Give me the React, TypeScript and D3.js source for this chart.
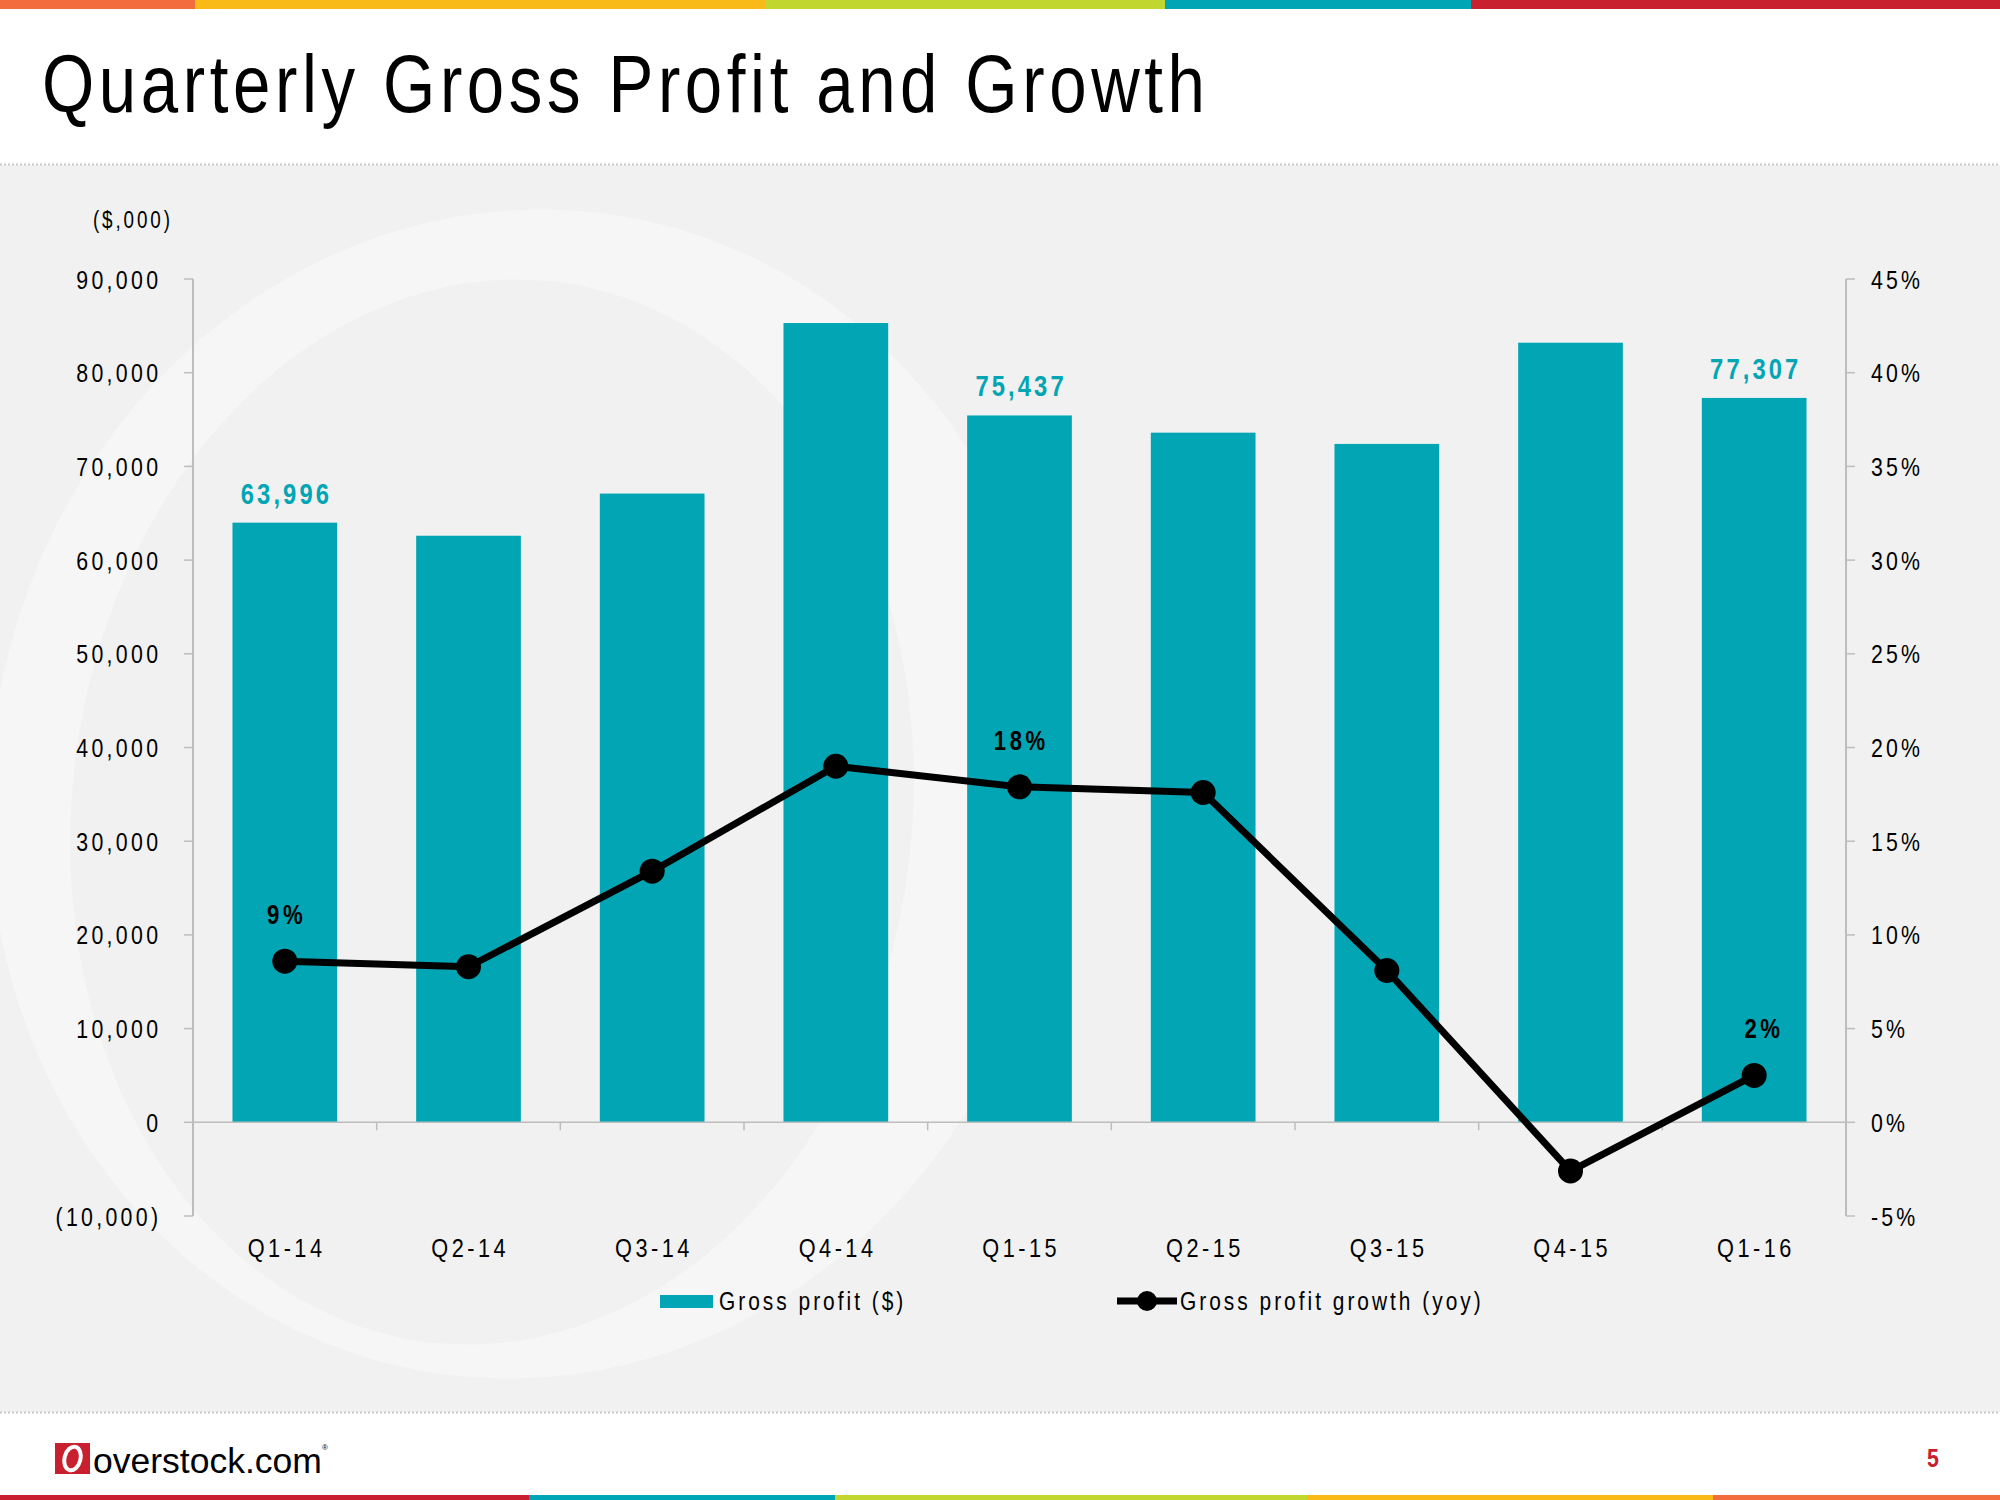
import React from 'react';
import * as d3 from 'd3';

const categories = ['Q1-14', 'Q2-14', 'Q3-14', 'Q4-14', 'Q1-15', 'Q2-15', 'Q3-15', 'Q4-15', 'Q1-16'];
const grossProfit = [63996, 62600, 67100, 85300, 75437, 73600, 72400, 83200, 77307];
const growthPct = [8.6, 8.3, 13.4, 19.0, 17.9, 17.6, 8.1, -2.6, 2.5];
const barLabelIndex = [0, 4, 8];
const growthLabelIndex = [0, 4, 8];
const growthLabelText = ['9%', '18%', '2%'];
const leftTicks = [-10000, 0, 10000, 20000, 30000, 40000, 50000, 60000, 70000, 80000, 90000];
const rightTicks = [-5, 0, 5, 10, 15, 20, 25, 30, 35, 40, 45];
const topStripe = [
  { color: '#F26C3D', w: 195 },
  { color: '#F9BA18', w: 570 },
  { color: '#C1D72F', w: 400 },
  { color: '#00A5B5', w: 306 },
  { color: '#C8202F', w: 529 },
];
const bottomStripe = [
  { color: '#C8202F', w: 529 },
  { color: '#00A5B5', w: 306 },
  { color: '#C1D72F', w: 472 },
  { color: '#F9BA18', w: 406 },
  { color: '#F26C3D', w: 287 },
];

const TEAL = '#01A5B4';
const FONT = "'Liberation Sans', Arial, sans-serif";
const SX = 0.82;

type TProps = {
  x: number; y: number; size: number; children: React.ReactNode;
  anchor?: 'start' | 'middle' | 'end'; spacing?: number; weight?: string; fill?: string;
  sx?: number; textLength?: number;
};
function T({ x, y, size, children, anchor = 'start', spacing = 0, weight = 'normal', fill = '#000', sx = SX, textLength }: TProps) {
  const ls = spacing / sx;
  const shift = anchor === 'end' ? spacing : anchor === 'middle' ? spacing / 2 : 0;
  return (
    <text
      transform={`translate(${x + shift},${y}) scale(${sx},1)`}
      textAnchor={anchor}
      fontFamily={FONT}
      fontSize={size}
      fontWeight={weight}
      letterSpacing={textLength ? undefined : ls}
      fill={fill}
      textLength={textLength ? textLength / sx : undefined}
      lengthAdjust={textLength ? 'spacing' : undefined}
    >
      {children}
    </text>
  );
}

function ellipsePath(cx: number, cy: number, rx: number, ry: number, rot: number) {
  const p = d3.path();
  const n = 120;
  const c = Math.cos(rot), s = Math.sin(rot);
  for (let i = 0; i <= n; i++) {
    const t = (i / n) * Math.PI * 2;
    const ex = rx * Math.cos(t), ey = ry * Math.sin(t);
    const px = cx + ex * c - ey * s, py = cy + ex * s + ey * c;
    if (i === 0) p.moveTo(px, py); else p.lineTo(px, py);
  }
  p.closePath();
  return p.toString();
}

export default function App() {
  const W = 2000, H = 1500;
  const plotLeft = 193, plotRight = 1846, plotTop = 279, plotBottom = 1216;
  const x = d3.scaleBand<string>().domain(categories).range([plotLeft, plotRight]).paddingInner(0.43).paddingOuter(0.215);
  const y = d3.scaleLinear().domain([-10000, 90000]).range([plotBottom, plotTop]);
  const y2 = d3.scaleLinear().domain([-5, 45]).range([plotBottom, plotTop]);
  const step = x.step();
  const cx = (c: string) => (x(c) as number) + x.bandwidth() / 2;
  const line = d3.line<number>().x((_, i) => cx(categories[i])).y((d) => y2(d));
  const fmt = d3.format(',');
  const y0 = y(0);

  const ringPath = ellipsePath(525, 794, 535, 586, 0.17) + ellipsePath(492, 812, 420, 534, 0.12);

  let acc = 0;
  const topBars = topStripe.map((s) => { const r = { ...s, x: acc }; acc += s.w; return r; });
  acc = 0;
  const botBars = bottomStripe.map((s) => { const r = { ...s, x: acc }; acc += s.w; return r; });

  return (
    <div style={{ position: 'absolute', left: 0, top: 0 }}>
      <svg width={W} height={H} style={{ display: 'block' }}>
        <rect x={0} y={0} width={W} height={H} fill="#ffffff" />
        <rect x={0} y={165} width={W} height={1247} fill="#F1F1F1" />
        <clipPath id="bgclip"><rect x={0} y={166} width={W} height={1245} /></clipPath>
        <g clipPath="url(#bgclip)">
          <path d={ringPath} fill="#F6F6F6" fillRule="evenodd" />
        </g>
        {topBars.map((s, i) => <rect key={i} x={s.x} y={0} width={s.w} height={9} fill={s.color} />)}
        {botBars.map((s, i) => <rect key={i} x={s.x} y={1495} width={s.w} height={5} fill={s.color} />)}
        <line x1={0} x2={W} y1={164.5} y2={164.5} stroke="#C8C8C8" strokeWidth={2} strokeDasharray="2,2" />
        <line x1={0} x2={W} y1={1412.5} y2={1412.5} stroke="#C8C8C8" strokeWidth={2} strokeDasharray="2,2" />

        <T x={42} y={112} size={82} textLength={1163}>Quarterly Gross Profit and Growth</T>

        {/* left axis */}
        <T x={170} y={228} size={23} anchor="end" spacing={2.9}>($,000)</T>
        <line x1={plotLeft} x2={plotLeft} y1={plotTop} y2={plotBottom} stroke="#BDBDBD" strokeWidth={2} />
        {leftTicks.map((t) => (
          <g key={t}>
            <line x1={plotLeft - 9} x2={plotLeft} y1={y(t)} y2={y(t)} stroke="#BDBDBD" strokeWidth={1.5} />
            <T x={158} y={y(t) + 9.5} size={26} anchor="end" spacing={3.3}>
              {t < 0 ? `(${fmt(-t)})` : fmt(t)}
            </T>
          </g>
        ))}
        {/* right axis */}
        <line x1={plotRight} x2={plotRight} y1={plotTop} y2={plotBottom} stroke="#BDBDBD" strokeWidth={2} />
        {rightTicks.map((t) => (
          <g key={t}>
            <line x1={plotRight} x2={plotRight + 9} y1={y2(t)} y2={y2(t)} stroke="#BDBDBD" strokeWidth={1.5} />
            <T x={1871} y={y2(t) + 9.5} size={26} spacing={3.2}>{`${t}%`}</T>
          </g>
        ))}

        {/* bars */}
        {grossProfit.map((v, i) => (
          <rect key={i} x={x(categories[i])} y={y(v)} width={x.bandwidth()} height={y0 - y(v)} fill={TEAL} />
        ))}
        {/* zero line */}
        <line x1={plotLeft} x2={plotRight} y1={y0} y2={y0} stroke="#BDBDBD" strokeWidth={1.5} />
        {categories.slice(1).map((c, i) => (
          <line key={c} x1={plotLeft + step * (i + 1)} x2={plotLeft + step * (i + 1)} y1={y0} y2={y0 + 8} stroke="#BDBDBD" strokeWidth={1.5} />
        ))}
        {barLabelIndex.map((i) => (
          <T key={i} x={cx(categories[i])} y={y(grossProfit[i]) - 19} size={29} anchor="middle" weight="bold" spacing={3.1} fill={TEAL}>
            {fmt(grossProfit[i])}
          </T>
        ))}

        {/* growth line */}
        <path d={line(growthPct) as string} fill="none" stroke="#000" strokeWidth={7} strokeLinejoin="round" />
        {growthPct.map((g, i) => (
          <circle key={i} cx={cx(categories[i])} cy={y2(g)} r={12.5} fill="#000" />
        ))}
        {growthLabelIndex.map((i, k) => (
          <T key={i} x={cx(categories[i]) + (k === 2 ? 8 : 0)} y={y2(growthPct[i]) - 37} size={27} anchor="middle" weight="bold" spacing={3.5}>
            {growthLabelText[k]}
          </T>
        ))}

        {/* category labels */}
        {categories.map((c) => (
          <T key={c} x={cx(c)} y={1257} size={26.5} anchor="middle" spacing={3.5}>{c}</T>
        ))}

        {/* legend */}
        <rect x={660} y={1295} width={53} height={13} fill={TEAL} />
        <T x={719} y={1310} size={25.5} spacing={3}>Gross profit ($)</T>
        <line x1={1117} x2={1177} y1={1301} y2={1301} stroke="#000" strokeWidth={7} />
        <circle cx={1147} cy={1301} r={10} fill="#000" />
        <T x={1180} y={1310} size={25.5} spacing={3}>Gross profit growth (yoy)</T>

        {/* footer */}
        <rect x={55} y={1443} width={35} height={31} fill="#C8202F" />
        <ellipse cx={72.5} cy={1458.5} rx={8} ry={12} transform="rotate(15,72.5,1458.5)" fill="none" stroke="#fff" strokeWidth={4} />
        <text x={93} y={1473} fontFamily={FONT} fontSize={35.5} fill="#000">overstock.com</text>
        <text x={322} y={1450} fontFamily={FONT} fontSize={8} fill="#000">®</text>
        <T x={1933} y={1467} size={26} anchor="middle" weight="bold" fill="#C8202F">5</T>
      </svg>
    </div>
  );
}
